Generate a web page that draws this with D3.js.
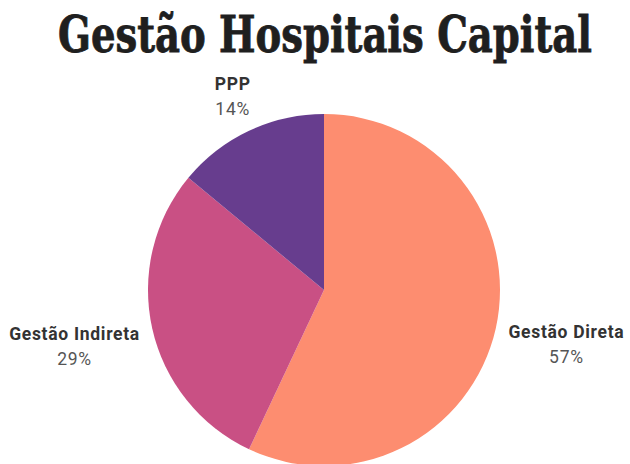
<!DOCTYPE html>
<html>
<head>
<meta charset="utf-8">
<script src="https://cdn.jsdelivr.net/npm/d3@7"></script>
<style>
  html, body { margin: 0; padding: 0; background: #fff; }
  svg { display: block; }
</style>
</head>
<body>
<svg id="chart" width="630" height="464"></svg>
<script>
// Share of capital hospitals by management model (percent)
const categories = ["Gestão Direta", "Gestão Indireta", "PPP"];
const shares = [57, 29, 14];
const sliceColors = ["#fd8d70", "#c95084", "#673d8e"];
const titleText = "Gestão Hospitais Capital";

const width = 630, height = 464;
const cx = 324, cy = 290, radius = 176;
const labelRadius = 187;
const blockH = 44;

const svg = d3.select("#chart");

// Heavy condensed serif title, squeezed horizontally to span the header
const titleLeft = 58, titleRight = 592, titleBase = 52;
const title = svg.append("text")
  .attr("x", 0)
  .attr("y", 0)
  .style("font-family", "'DejaVu Serif', 'Liberation Serif', serif")
  .style("font-stretch", "condensed")
  .style("font-weight", 700)
  .style("font-size", "50px")
  .style("fill", "#1f1f1f")
  .style("stroke", "#1f1f1f")
  .style("stroke-width", "0.8px")
  .text(titleText);
const naturalW = title.node().getComputedTextLength();
title.attr("transform",
  `translate(${titleLeft},${titleBase}) scale(${(titleRight - titleLeft) / naturalW},1)`);

const data = categories.map((c, i) => ({ name: c, value: shares[i], color: sliceColors[i] }));

const pie = d3.pie().sort(null).value(d => d.value);
const arc = d3.arc().innerRadius(0).outerRadius(radius);
const arcs = pie(data);

const g = svg.append("g").attr("transform", `translate(${cx},${cy})`);

g.selectAll("path.slice")
  .data(arcs)
  .join("path")
  .attr("class", "slice")
  .attr("d", arc)
  .attr("fill", d => d.data.color);

// Labels: two-line blocks pushed outward along each slice's mid-angle
const labels = g.selectAll("g.label")
  .data(arcs)
  .join("g")
  .attr("class", "label");

const labelFont = "Roboto, 'Liberation Sans', sans-serif";

labels.append("text")
  .attr("class", "name")
  .attr("text-anchor", "middle")
  .attr("y", -6)
  .style("font-family", labelFont)
  .style("font-weight", 700)
  .style("font-size", "17.5px")
  .style("letter-spacing", "0.7px")
  .style("fill", "#333")
  .text(d => d.data.name);

labels.append("text")
  .attr("class", "pct")
  .attr("text-anchor", "middle")
  .attr("y", 19)
  .style("font-family", labelFont)
  .style("font-weight", 400)
  .style("font-size", "17.5px")
  .style("letter-spacing", "0.7px")
  .style("fill", "#555")
  .text(d => d.data.value + "%");

labels.attr("transform", function(d) {
  const mid = (d.startAngle + d.endAngle) / 2;
  const ux = Math.sin(mid), uy = -Math.cos(mid);
  const w = d3.max(d3.select(this).selectAll("text").nodes(), n => n.getComputedTextLength());
  const dist = labelRadius + (w / 2) * Math.abs(ux) + (blockH / 2) * Math.abs(uy);
  return `translate(${ux * dist},${uy * dist})`;
});
</script>
</body>
</html>
